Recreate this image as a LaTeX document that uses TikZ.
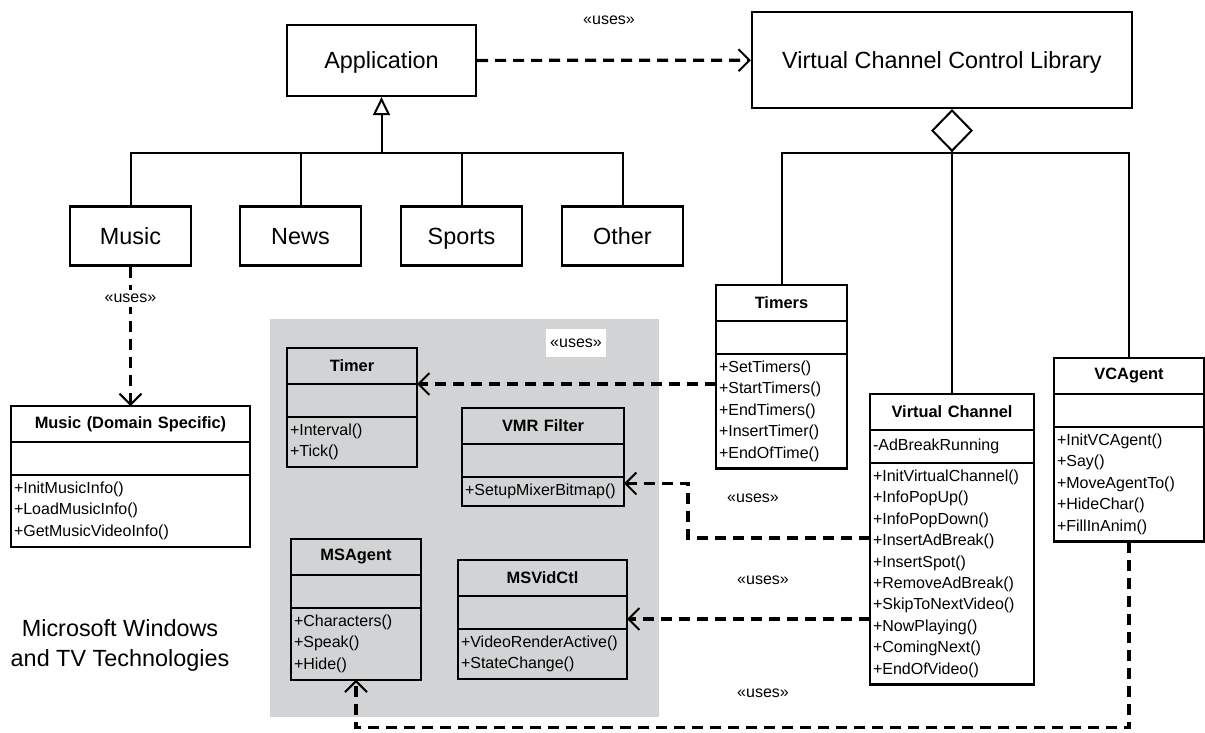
\documentclass[tikz,border=0pt]{standalone}
\usepackage{fontspec}
\setmainfont{Liberation Sans}
\usetikzlibrary{arrows.meta,positioning}
\definecolor{panelgray}{RGB}{209,211,212}

\begin{document}
\begin{tikzpicture}
    [
        x=0.5pt, y=-0.5pt,
        Block/.style={rectangle, draw, line width=1.1pt, minimum width=#1, minimum height=29.5pt, text height=8.4pt, text depth=0pt, font=\fontsize{11.7}{14}\selectfont},
        ClassName/.style={rectangle, draw, line width=1.1pt, outer sep=0pt, anchor=north, text width=#1, inner xsep=1.5pt, minimum height=18pt, align=center, font=\bfseries\fontsize{8.2}{10}\selectfont},
        ClassAttr/.style={rectangle, draw, line width=1.1pt, outer sep=0pt, text width=#1, inner xsep=1.5pt, minimum height=16.5pt, align=left, font=\fontsize{8}{10.7}\selectfont},
        ClassOps/.style={rectangle, draw, line width=1.1pt, outer sep=0pt, text width=#1, inner xsep=1.5pt, inner ysep=3.5pt, align=left, font=\fontsize{8}{10.7}\selectfont},
        Uses/.style={font=\fontsize{8}{10}\selectfont, inner sep=2pt},
        UsesLine/.style={line width=1.6pt, dash pattern=on 5.5pt off 3.5pt, -{Straight Barb[length=5.5pt,width=11pt,line width=1pt]}},
        Link/.style={line width=1pt}
    ]

    \useasboundingbox (0,0) rectangle (1205,733);
    \fill[panelgray] (270,319) rectangle (659,717);

    \node[Block=94.5pt, minimum height=35.5pt] (Application) at (381.5,60.5) {Application};
    \node[Block=190pt, minimum height=48pt] (VCCL) at (942,60) {Virtual Channel Control Library};
    \node[Uses] (UsesTop) at (609,20) {«uses»};

    \node[Block=60.5pt] (Music) at (130.5,236) {Music};
    \node[Block=60.5pt] (News) at (300.5,236) {News};
    \node[Block=60.5pt] (Sports) at (461.5,236) {Sports};
    \node[Block=60.5pt] (Other) at (622.5,236) {Other};

    \node[ClassName=116.5pt] (MusicDS) at (130.5,406) {Music (Domain Specific)};
    \node[ClassAttr=116.5pt, below=0pt of MusicDS] (MusicDSAttr) {};
    \node[ClassOps=116.5pt, below=0pt of MusicDSAttr] (MusicDSOps) {+InitMusicInfo()\\+LoadMusicInfo()\\+GetMusicVideoInfo()};

    \node[ClassName=62pt] (Timer) at (352,348) {Timer};
    \node[ClassAttr=62pt, below=0pt of Timer] (TimerAttr) {};
    \node[ClassOps=62pt, below=0pt of TimerAttr] (TimerOps) {+Interval()\\+Tick()};

    \node[ClassName=78pt] (VMR) at (543,408) {VMR Filter};
    \node[ClassAttr=78pt, below=0pt of VMR] (VMRAttr) {};
    \node[ClassOps=78pt, below=0pt of VMRAttr] (VMROps) {+SetupMixerBitmap()};

    \node[ClassName=62pt] (MSAgent) at (356,539) {MSAgent};
    \node[ClassAttr=62pt, below=0pt of MSAgent] (MSAgentAttr) {};
    \node[ClassOps=62pt, below=0pt of MSAgentAttr] (MSAgentOps) {+Characters()\\+Speak()\\+Hide()};

    \node[ClassName=81.5pt] (MSVidCtl) at (542.5,560) {MSVidCtl};
    \node[ClassAttr=81.5pt, below=0pt of MSVidCtl] (MSVidCtlAttr) {};
    \node[ClassOps=81.5pt, below=0pt of MSVidCtlAttr] (MSVidCtlOps) {+VideoRenderActive()\\+StateChange()};

    \node[ClassName=62.5pt] (Timers) at (781.5,285) {Timers};
    \node[ClassAttr=62.5pt, below=0pt of Timers] (TimersAttr) {};
    \node[ClassOps=62.5pt, below=0pt of TimersAttr] (TimersOps) {+SetTimers()\\+StartTimers()\\+EndTimers()\\+InsertTimer()\\+EndOfTime()};

    \node[ClassName=79pt] (VChannel) at (952,394) {Virtual Channel};
    \node[ClassAttr=79pt, below=0pt of VChannel] (VChannelAttr) {-AdBreakRunning};
    \node[ClassOps=79pt, below=0pt of VChannelAttr] (VChannelOps) {+InitVirtualChannel()\\+InfoPopUp()\\+InfoPopDown()\\+InsertAdBreak()\\+InsertSpot()\\+RemoveAdBreak()\\+SkipToNextVideo()\\+NowPlaying()\\+ComingNext()\\+EndOfVideo()};

    \node[ClassName=72pt] (VCAgent) at (1129,358) {VCAgent};
    \node[ClassAttr=72pt, below=0pt of VCAgent] (VCAgentAttr) {};
    \node[ClassOps=72pt, below=0pt of VCAgentAttr] (VCAgentOps) {+InitVCAgent()\\+Say()\\+MoveAgentTo()\\+HideChar()\\+FillInAnim()};

    \node[Uses, fill=white, minimum width=30pt, minimum height=14pt] (UsesTimer) at (576,343) {«uses»};
    \node[Uses] (UsesVMR) at (753,498) {«uses»};
    \node[Uses] (UsesVid) at (763,580) {«uses»};
    \node[Uses] (UsesAgent) at (763,693) {«uses»};
    \node[align=center, font=\fontsize{11.7}{15}\selectfont] (Platform) at (120,645) {Microsoft Windows\\and TV Technologies};

    \coordinate (InhBar) at (381.5,153);
    \coordinate (AggBar) at (952,153);
    \coordinate (VidOut) at ([yshift=-78pt]VChannelOps.north west);

    \draw[Link, -{Triangle[open, length=9pt, width=8.5pt]}] (InhBar) -- (Application);
    \draw[Link] (Music) |- (InhBar) -| (Other);
    \draw[Link] (News) -- (News |- InhBar);
    \draw[Link] (Sports) -- (Sports |- InhBar);

    \draw[Link, {Diamond[open, length=21.5pt, width=21pt]}-] (VCCL.south -| VChannel) -- (VChannel);
    \draw[Link] (Timers) |- (AggBar) -| (VCAgent);

    \draw[UsesLine] (Application) -- (VCCL);
    \draw[UsesLine] (Music) -- node[Uses, fill=white, pos=0.227] {«uses»} (MusicDS);
    \draw[UsesLine] (TimersOps.west |- Timer.south east) -- (Timer.south east);
    \draw[UsesLine] ([yshift=-37.5pt]VChannelOps.north west) -| ([xshift=32pt,yshift=4pt]VMROps.east) -- ([yshift=4pt]VMROps.east);
    \draw[UsesLine] (VidOut) -- (VidOut -| MSVidCtlAttr.east);
    \draw[UsesLine] (VCAgentOps.south) |- ([yshift=-24pt]MSAgentOps.south) -- (MSAgentOps.south);
\end{tikzpicture}
\end{document}
